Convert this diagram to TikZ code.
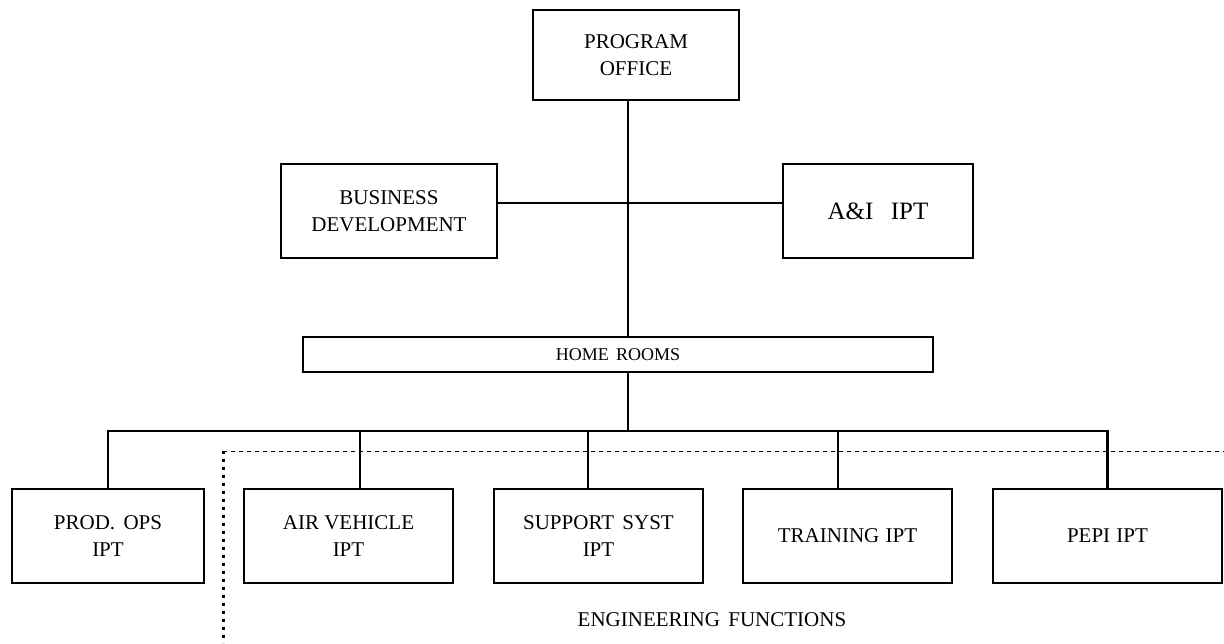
\documentclass[tikz,border=0pt]{standalone}
\usepackage{fontspec}
\setmainfont{Liberation Serif}
\begin{document}
\begin{tikzpicture}[x=1pt,y=-1pt,
  box/.style={draw, line width=2.8pt, inner sep=0pt, outer sep=0pt, align=center,
    font=\fontsize{21}{27}\selectfont},
  conn/.style={line width=2.5pt},
  efdash/.style={line width=1pt, dash pattern=on 4pt off 4pt},
  efdot/.style={line width=3pt, dash pattern=on 3pt off 5pt}]
\useasboundingbox (0,0) rectangle (1224,643);
\node[box, minimum width=206pt, minimum height=90pt] (po) at (636,55) {PROGRAM\\OFFICE};
\node[box, minimum width=216pt, minimum height=94pt] (bd) at (389,211) {BUSINESS\\DEVELOPMENT};
\node[box, minimum width=190pt, minimum height=94pt, font=\fontsize{25}{30}\selectfont] (ai) at (878,211) {A\&I\hspace{0.7em}IPT};
\node[box, minimum width=630pt, minimum height=35pt, font=\fontsize{18}{22}\selectfont] (hr) at (618,354.5) {HOME\hspace{0.4em}ROOMS};
\node[box, minimum width=192pt, minimum height=94pt] (prod) at (108,536) {PROD.\hspace{0.4em}OPS\\IPT};
\node[box, minimum width=209pt, minimum height=94pt] (air) at (348.5,536) {AIR VEHICLE\\IPT};
\node[box, minimum width=209pt, minimum height=94pt] (sup) at (598.5,536) {SUPPORT\hspace{0.4em}SYST\\IPT};
\node[box, minimum width=209pt, minimum height=94pt] (trn) at (847.5,536) {TRAINING\hspace{0.3em}IPT};
\node[box, minimum width=229pt, minimum height=94pt] (pepi) at (1107.5,536) {PEPI\hspace{0.3em}IPT};
\node[font=\fontsize{21}{24}\selectfont] (ef) at (712,620) {ENGINEERING\hspace{0.4em}FUNCTIONS};
\coordinate (trunk) at (628,0);
\coordinate (hy) at (0,203);
\coordinate (bus) at (0,431);
\coordinate (dA) at (360,0);
\coordinate (dB) at (588,0);
\coordinate (dC) at (838,0);
\coordinate (efA) at (223,451);
\coordinate (efB) at (1224,451);
\coordinate (efC) at (223,643);
\draw[conn] (po.south -| trunk) -- (hr.north -| trunk);
\draw[conn] (bd.east |- hy) -- (ai.west |- hy);
\draw[conn] (hr.south -| trunk) -- (trunk |- bus);
\draw[conn] (prod.north) -- (prod.north |- bus) -- (pepi.north |- bus) -- (pepi.north);
\draw[conn] (dA |- bus) -- (air.north -| dA);
\draw[conn] (dB |- bus) -- (sup.north -| dB);
\draw[conn] (dC |- bus) -- (trn.north -| dC);
\draw[efdash] (efA) -- (efB);
\draw[efdot] (efA) -- (efC);
\end{tikzpicture}
\end{document}
